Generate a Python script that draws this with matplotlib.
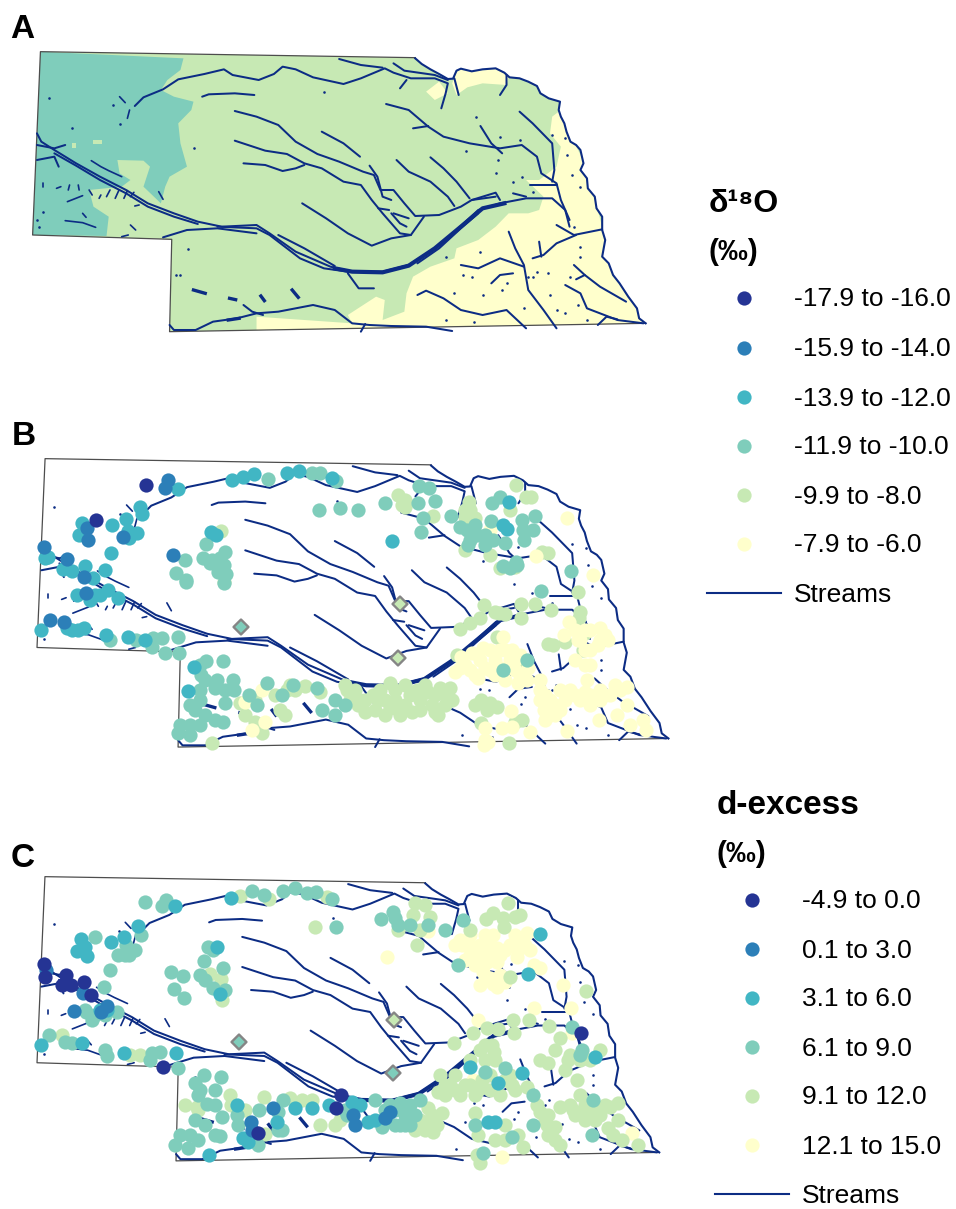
import numpy as np
import matplotlib
matplotlib.use("Agg")
import matplotlib.pyplot as plt
from matplotlib.patches import Polygon

plt.rcParams['font.family'] = ['Liberation Sans', 'DejaVu Sans']

# colour classes, darkest first
class_colors = ["#253494", "#2C7FB8", "#41B6C4", "#7FCDBB", "#C7E9B4", "#FFFFCC"]
stream_color = "#0C2C84"

d18o_labels = ["-17.9 to -16.0", "-15.9 to -14.0", "-13.9 to -12.0", "-11.9 to -10.0", "-9.9 to -8.0", "-7.9 to -6.0"]
dexcess_labels = ["-4.9 to 0.0", "0.1 to 3.0", "3.1 to 6.0", "6.1 to 9.0", "9.1 to 12.0", "12.1 to 15.0"]

# map outline and streams, digitised in map units
north_west = [(955, 173), (93, 155), (75, 705), (395, 718), (390, 995), (1485, 970)]
missouri = [(955, 175), (970, 192), (990, 208), (1010, 222), (1030, 237), (1042, 236), (1050, 212), (1060, 206), (1085, 214), (1110, 208),
            (1140, 205), (1160, 218), (1172, 232), (1195, 235), (1215, 245), (1235, 258), (1243, 280), (1262, 295), (1288, 305), (1285, 330),
            (1290, 350), (1298, 370), (1303, 395), (1312, 425), (1325, 435), (1335, 450), (1342, 490), (1335, 510), (1350, 535), (1352, 565),
            (1368, 590), (1372, 625), (1385, 650), (1385, 690), (1392, 720), (1385, 770), (1400, 790), (1410, 825), (1425, 850), (1445, 890),
            (1465, 925), (1470, 955), (1485, 970)]
platte_thick = [(770, 805), (810, 815), (880, 817), (940, 797), (1000, 745), (1060, 680), (1110, 625), (1160, 610)]
streams = [
    [(310, 318), (330, 292), (375, 268), (410, 238), (470, 222), (515, 208), (535, 225), (595, 240), (630, 222), (650, 200),
     (680, 208), (720, 232), (790, 252), (830, 235), (885, 205), (905, 218), (945, 235), (1000, 235), (1030, 250), (1025, 280), (1015, 325)],
    [(780, 177), (830, 195), (880, 203)],
    [(905, 190), (930, 212), (1000, 225), (1030, 240)],
    [(920, 265), (935, 240)],
    [(1045, 235), (1055, 285)],
    [(1165, 225), (1165, 255), (1150, 285)],
    [(85, 400), (95, 425), (125, 450), (175, 490), (230, 530), (290, 570), (340, 610), (400, 640), (455, 665), (510, 680),
     (590, 675), (620, 700), (680, 755), (760, 800), (810, 815), (880, 815), (940, 795), (1000, 745), (1050, 690), (1100, 630),
     (1150, 610), (1210, 595), (1270, 595), (1300, 630), (1310, 680)],
    [(125, 460), (175, 497), (230, 540), (290, 580), (340, 620), (400, 650), (455, 672)],
    [(375, 712), (430, 690), (500, 685), (590, 700)],
    [(500, 680), (590, 685), (620, 705), (650, 735), (690, 775), (745, 805), (800, 815)],
    [(640, 705), (700, 745), (770, 798)],
    [(960, 790), (1010, 745), (1060, 685), (1100, 640)],
    [(85, 435), (125, 445), (150, 435)],
    [(85, 480), (125, 470), (135, 500)],
    [(540, 333), (590, 350), (640, 375), (680, 425), (730, 462), (780, 485), (835, 515), (860, 525), (875, 570), (905, 570),
     (930, 610), (955, 648), (1010, 645), (1060, 620), (1085, 600), (1140, 590)],
    [(540, 422), (610, 452), (660, 462), (700, 490), (740, 505), (790, 545), (830, 555), (855, 600), (880, 640), (920, 700),
     (945, 705), (975, 650)],
    [(560, 490), (610, 495), (650, 513), (680, 505), (700, 495)],
    [(695, 610), (750, 655), (800, 700), (855, 737), (900, 715), (945, 705)],
    [(740, 395), (790, 430), (828, 470)],
    [(912, 480), (940, 515), (990, 545), (1030, 590), (1045, 618)],
    [(990, 472), (1020, 505), (1050, 545), (1080, 595)],
    [(850, 497), (868, 530), (880, 590), (900, 600)],
    [(870, 625), (895, 630)],
    [(900, 640), (920, 670), (935, 680)],
    [(905, 640), (940, 655)],
    [(888, 312), (940, 330), (985, 380), (1020, 410), (1080, 430), (1150, 445), (1200, 435), (1235, 470), (1245, 520), (1280, 550),
     (1290, 600), (1310, 660)],
    [(950, 385), (985, 378)],
    [(1105, 378), (1130, 430), (1155, 460)],
    [(1195, 335), (1225, 370), (1270, 430), (1275, 510), (1270, 545)],
    [(1220, 555), (1280, 555)],
    [(1180, 580), (1210, 590)],
    [(1085, 600), (1140, 578), (1150, 600)],
    [(465, 290), (480, 283), (540, 280), (585, 285)],
    [(1170, 695), (1185, 745), (1205, 795), (1215, 870), (1250, 930), (1280, 985)],
    [(1060, 795), (1100, 805), (1150, 775), (1205, 800)],
    [(1130, 850), (1150, 825), (1180, 820)],
    [(1280, 675), (1320, 705), (1385, 688)],
    [(1325, 705), (1280, 730), (1250, 765), (1225, 775)],
    [(1240, 725), (1245, 770)],
    [(1320, 795), (1345, 825), (1380, 860), (1440, 905)],
    [(1300, 855), (1335, 880), (1350, 925), (1420, 960), (1480, 970)],
    [(1345, 825), (1325, 838)],
    [(1375, 975), (1395, 950), (1420, 958)],
    [(390, 975), (400, 990), (450, 990), (490, 965), (545, 955), (590, 940), (640, 935), (720, 915), (770, 930), (810, 970),
     (850, 975), (900, 978), (980, 980), (1040, 993)],
    [(560, 915), (580, 935), (605, 945)],
    [(830, 995), (840, 972)],
    [(960, 885), (980, 872), (1020, 895), (1060, 930), (1110, 945), (1165, 930), (1210, 985)],
    [(800, 820), (825, 865), (860, 865)],
]
short_streams = [
    [(275, 290), (288, 308)], [(293, 355), (298, 330)],
    [(100, 548), (100, 560)], [(130, 565), (140, 560)], [(160, 555), (157, 570)], [(180, 555), (182, 570)],
    [(155, 605), (190, 587)], [(205, 570), (212, 585)], [(228, 595), (232, 585)], [(245, 590), (253, 570)],
    [(265, 595), (273, 572)], [(285, 595), (293, 572)], [(300, 590), (308, 577)], [(150, 662), (190, 668), (220, 682)],
    [(190, 640), (198, 652)], [(210, 482), (232, 500), (250, 512), (280, 530)], [(300, 675), (312, 690)],
    [(280, 710), (295, 705)], [(365, 575), (375, 598)], [(310, 618), (320, 615)],
]
lakes = [[(445, 870), (472, 880)], [(600, 888), (608, 902)], [(672, 870), (686, 892)], [(528, 895), (542, 899)], [(525, 960), (550, 955)]]
stream_dots = [(113, 295), (260, 315), (275, 372), (165, 385), (447, 445), (745, 277), (1095, 352), (1150, 412), (1195, 420),
               (1072, 452), (1145, 480), (1140, 520), (1200, 530), (1180, 545), (1305, 465), (1315, 525), (1335, 560), (1300, 415),
               (1270, 405), (1225, 575), (432, 748), (405, 825), (415, 825), (1065, 825), (1085, 830), (1105, 755), (1110, 885),
               (1045, 880), (1025, 960), (1090, 965), (1155, 870), (1165, 850), (1260, 820), (1235, 815), (1215, 830), (1225, 830),
               (1310, 830), (1335, 770), (1335, 740), (1205, 925), (1265, 885), (1300, 940), (1330, 915), (1280, 930), (1350, 960),
               (1025, 770), (1320, 680), (100, 635), (90, 680), (85, 660)]

# zones of panel A
teal_zone = [(93, 155), (422, 175), (415, 210), (385, 240), (370, 270), (400, 290), (445, 305), (440, 330), (410, 370), (415, 430),
             (430, 500), (390, 530), (380, 560), (370, 610), (330, 560), (345, 500), (330, 482), (270, 480), (275, 520), (300, 540),
             (280, 560), (205, 570), (215, 620), (250, 650), (245, 708), (75, 705)]
teal_spots = [[(215, 420), (235, 420), (235, 432), (215, 432)], [(165, 430), (175, 430), (175, 445), (165, 445)]]
yellow_ne = [(1050, 215), (1060, 205), (1150, 205), (1170, 230), (1165, 255), (1110, 250), (1075, 262), (1050, 285), (1040, 250)]
yellow_nw = [(980, 275), (1010, 245), (1030, 280), (1000, 300)]
yellow_south = [(1290, 330), (1300, 375), (1345, 490), (1385, 680), (1500, 970), (1280, 1000),
                (820, 1000), (590, 1000), (590, 950), (810, 970), (800, 945), (865, 890), (885, 900), (880, 960), (930, 935), (935, 880),
                (950, 830), (990, 800), (1045, 775), (1050, 745), (1100, 720), (1140, 680), (1170, 640), (1215, 640), (1240, 630),
                (1250, 590), (1210, 540), (1240, 540), (1280, 500), (1290, 440), (1265, 400), (1270, 350)]

# panel B sites, image pixels
b_dark = [(146, 485), (96, 520)]
b_blue = [(168, 480), (165, 488), (87, 528), (88, 540), (44, 547), (67, 559), (84, 577), (86, 593), (50, 620), (64, 622), (123, 537), (173, 555)]
b_cyan = [(178, 489), (232, 480), (243, 477), (254, 474), (287, 473), (299, 471), (332, 478), (140, 507), (142, 514), (82, 523),
          (79, 535), (112, 525), (126, 519), (128, 531), (137, 533), (129, 538), (111, 553), (45, 558), (48, 557), (63, 569), (72, 571),
          (85, 566), (105, 570), (93, 578), (77, 595), (95, 595), (100, 595), (108, 590), (118, 598), (90, 600), (41, 630), (67, 628),
          (78, 630), (84, 628), (72, 630), (106, 635), (128, 637), (145, 640), (211, 532), (216, 535), (188, 691), (194, 667),
          (392, 541), (509, 502), (503, 525), (507, 529)]
b_mint = [(268, 479), (312, 473), (320, 473), (336, 481), (319, 510), (340, 508), (358, 510), (185, 560), (176, 573), (186, 582), (186, 580),
          (206, 544), (203, 558), (210, 563), (218, 563), (225, 552), (224, 565), (218, 572), (226, 574), (212, 560), (220, 558), (224, 583),
          (136, 640), (110, 640), (153, 638), (162, 638), (178, 637), (152, 647), (165, 653), (179, 653), (206, 661), (200, 665), (223, 661),
          (217, 680), (233, 680), (201, 675), (205, 680), (200, 690), (215, 688), (225, 690), (234, 690), (200, 700), (225, 703), (195, 710),
          (205, 715), (215, 720), (223, 722), (180, 725), (190, 725), (200, 725), (178, 733), (190, 735), (190, 705), (249, 695), (257, 705),
          (267, 683), (293, 685), (282, 695), (317, 688), (322, 710), (335, 700), (345, 705), (335, 715),
          (419, 486), (429, 488), (435, 501), (418, 503), (385, 503), (423, 518), (421, 532), (451, 516), (460, 527), (467, 530), (475, 525),
          (477, 535), (470, 540), (468, 545), (485, 535), (485, 545), (493, 540), (491, 521), (492, 503), (500, 497), (505, 543), (522, 520),
          (535, 516), (523, 530), (533, 530), (524, 540), (503, 566), (510, 568), (517, 565), (516, 562), (571, 571), (541, 591), (527, 660), (503, 670)]
b_green = [(221, 531), (224, 582), (212, 743), (290, 685), (305, 686), (287, 690), (295, 690), (320, 692), (240, 703), (245, 715), (255, 722),
           (262, 733), (280, 710), (285, 715), (275, 695), (255, 700), (345, 685), (350, 700), (398, 495), (405, 500), (402, 505), (405, 507),
           (433, 516), (469, 502), (468, 512), (465, 517), (475, 518), (465, 550), (490, 555), (500, 568), (515, 567), (516, 485), (526, 497),
           (531, 497), (510, 510), (542, 552), (548, 553), (578, 592), (484, 605), (499, 613), (495, 612), (505, 614), (521, 604), (535, 604),
           (551, 610), (521, 618), (480, 618), (470, 623), (460, 629), (580, 612), (579, 618), (548, 644), (553, 645), (565, 642), (585, 633),
           (583, 650), (457, 655), (524, 669), (497, 637), (380, 690), (395, 690), (405, 685), (425, 685), (385, 700), (395, 700), (410, 695),
           (420, 700), (435, 695), (445, 695), (375, 710), (385, 715), (400, 715), (420, 710), (435, 712), (438, 715), (445, 705), (360, 700),
           (365, 712), (481, 700), (487, 710), (497, 707), (481, 723), (515, 722), (522, 720), (509, 743),
           (373, 695), (390, 683), (378, 700), (390, 708), (405, 705), (412, 712), (428, 692), (432, 705), (450, 688), (452, 700), (440, 688),
           (395, 708), (417, 690), (347, 690), (355, 690), (358, 705), (365, 700), (475, 705), (490, 703), (465, 510), (470, 510)]
b_yellow = [(262, 690), (245, 702), (252, 730), (265, 722), (567, 518), (593, 575), (536, 556), (490, 530), (569, 622), (564, 635), (590, 630),
            (580, 640), (590, 650), (600, 640), (608, 640), (605, 635), (585, 650), (575, 660), (585, 665), (587, 680), (503, 637), (490, 650),
            (505, 650), (512, 650), (520, 655), (472, 653), (461, 657), (455, 672), (470, 670), (475, 675), (490, 670), (495, 675), (515, 670),
            (520, 675), (495, 660), (510, 660), (540, 680), (545, 695), (560, 690), (575, 695), (580, 700), (590, 695), (600, 690), (610, 695),
            (620, 690), (627, 687), (627, 705), (617, 715), (630, 725), (643, 720), (646, 730), (599, 720), (544, 710), (555, 705), (560, 710),
            (550, 715), (511, 711), (502, 728), (512, 727), (530, 732), (567, 731), (485, 740), (488, 742), (484, 745), (485, 728),
            (480, 660), (485, 668), (465, 665), (478, 678), (500, 668), (505, 680), (518, 683), (527, 680), (500, 650), (515, 660), (528, 668),
            (483, 648), (460, 668), (540, 690), (545, 705), (550, 700), (565, 700), (570, 690), (590, 705), (605, 695), (600, 700), (585, 692),
            (615, 685), (545, 720), (555, 715), (540, 700), (578, 640), (585, 630), (575, 630), (598, 645), (600, 628), (590, 665)]
b_diamonds = [(241, 627), (400, 604), (398, 658)]
b_diamond_class = [3, 4, 4]

# panel C sites, image pixels
c_dark = [(44, 964), (45, 977), (66, 975), (62, 985), (71, 985), (84, 982), (91, 995), (163, 1067), (258, 1133), (341, 1095), (336, 1108), (581, 1033)]
c_blue = [(46, 970), (83, 993), (74, 1011), (107, 1006), (101, 1012), (251, 1122), (252, 1130), (273, 1108), (390, 1112), (385, 1118), (355, 1125), (353, 1115)]
c_cyan = [(175, 906), (231, 898), (81, 939), (85, 947), (77, 951), (87, 956), (111, 942), (124, 937), (138, 926), (41, 1045), (82, 1043), (124, 1053),
          (176, 1053), (217, 947), (220, 994), (237, 1105), (277, 1122), (243, 1138), (248, 1142), (209, 1155), (295, 1108), (312, 1108), (329, 1105),
          (107, 1010), (100, 1010), (540, 934), (528, 974), (470, 1067), (498, 1083), (522, 1073), (488, 1122), (495, 1122), (352, 1102), (360, 1105),
          (368, 1122), (375, 1120), (595, 1057)]
c_mint = [(145, 902), (166, 900), (162, 906), (95, 937), (252, 891), (264, 895), (283, 891), (295, 888), (307, 893), (316, 892), (332, 899), (336, 927),
          (141, 935), (126, 945), (135, 950), (125, 955), (118, 955), (129, 955), (110, 970), (104, 987), (171, 972), (183, 976), (174, 989), (184, 998),
          (208, 947), (213, 950), (204, 961), (200, 975), (223, 968), (205, 980), (213, 988), (225, 990), (85, 1010), (92, 1020), (86, 1012), (95, 1015),
          (117, 1012), (105, 1015), (49, 1035), (65, 1042), (72, 1043), (105, 1050), (107, 1056), (152, 1053), (160, 1052), (150, 1060), (178, 1068),
          (204, 1075), (195, 1083), (221, 1077), (200, 1090), (215, 1090), (198, 1095), (215, 1105), (207, 1104), (222, 1117), (195, 1120), (205, 1125),
          (215, 1135), (220, 1136), (180, 1135), (190, 1135), (198, 1140), (175, 1145), (188, 1148), (237, 1115), (238, 1125), (259, 1110), (278, 1130),
          (282, 1130), (278, 1112), (283, 1100), (258, 1145), (381, 919), (393, 912), (395, 918), (398, 925), (410, 925), (428, 925), (445, 930), (463, 920),
          (458, 965), (485, 1072), (505, 1068), (533, 1095), (582, 1050), (580, 1055), (572, 1027), (593, 1100), (592, 1135), (512, 1137), (533, 1125),
          (475, 1125), (483, 1153), (375, 1100), (390, 1105), (400, 1103), (410, 1105), (420, 1100), (405, 1115), (415, 1115), (395, 1125), (382, 1127),
          (400, 1125), (345, 1110), (347, 1115), (385, 1110), (395, 1110), (405, 1125), (410, 1125)]
c_green = [(327, 897), (240, 896), (269, 899), (315, 927), (210, 974), (221, 979), (222, 1000), (185, 1105), (197, 1107), (198, 1110), (230, 1095), (231, 1105),
           (245, 1110), (264, 1097), (290, 1098), (302, 1100), (312, 1100), (265, 1134), (320, 1125), (335, 1125), (340, 1120), (130, 1055), (140, 1055), (62, 1035),
           (508, 903), (515, 917), (520, 915), (486, 919), (493, 913), (503, 918), (504, 927), (415, 903), (425, 905), (413, 915), (430, 917), (398, 930), (420, 930),
           (417, 945), (470, 930), (510, 977), (586, 991), (513, 1020), (529, 1020), (549, 1026), (454, 1043), (473, 1033), (487, 1028), (498, 1029), (514, 1033),
           (560, 1038), (555, 1050), (570, 1055), (600, 1050), (590, 1060), (580, 1060), (565, 1070), (577, 1080), (580, 1095), (540, 1060), (548, 1063), (568, 1060),
           (480, 1050), (494, 1052), (485, 1060), (455, 1075), (445, 1085), (465, 1085), (478, 1090), (490, 1090), (505, 1080), (510, 1075), (512, 1085), (527, 1087),
           (438, 1092), (455, 1090), (470, 1085), (537, 1105), (540, 1112), (547, 1125), (552, 1130), (555, 1127), (548, 1135), (560, 1145), (505, 1125), (475, 1113),
           (478, 1135), (495, 1140), (505, 1140), (518, 1135), (523, 1147), (480, 1155), (480, 1163), (477, 1155), (560, 1107), (573, 1110), (585, 1112), (590, 1115),
           (600, 1110), (610, 1107), (618, 1103), (585, 1105), (618, 1120), (608, 1128), (613, 1135), (622, 1140), (638, 1145), (420, 1120), (432, 1115), (437, 1125),
           (442, 1113), (433, 1132), (440, 1075), (445, 1095), (450, 1085), (460, 1095), (475, 1095), (482, 1080), (495, 1060), (500, 1095), (490, 1075), (470, 1060),
           (485, 1045), (492, 1045), (515, 1090), (570, 1105), (575, 1115), (590, 1105), (600, 1115), (605, 1105), (595, 1120), (585, 1120), (548, 1115), (545, 1120),
           (555, 1140), (430, 1120), (425, 1130), (428, 1108), (435, 1125), (415, 1130)]
c_yellow = [(387, 957), (563, 985), (571, 1008), (534, 1008), (534, 965), (540, 968), (478, 1020), (572, 1033), (632, 1133), (502, 1157), (473, 1080), (420, 1125),
            (515, 935), (527, 933), (525, 945), (518, 950), (517, 957), (455, 945), (462, 945), (470, 945), (480, 945), (490, 945), (497, 948), (500, 955), (497, 962),
            (478, 955), (465, 960), (475, 965), (483, 972), (493, 935), (485, 935), (493, 984), (497, 987), (505, 982), (502, 980), (428, 931),
            (460, 940), (470, 955), (485, 950), (490, 955), (505, 950), (480, 965), (487, 962), (510, 945), (530, 950), (520, 940), (470, 935), (480, 985), (490, 978), (500, 975)]
c_diamonds = [(239, 1042), (394, 1020), (393, 1073)]
c_diamond_class = [3, 4, 3]


def to_panel(pts, panel):
    # map units -> image pixels, panel = (x0, y0, scale)
    pts = np.array(pts, dtype=float)
    x0, y0, k = panel
    x = x0 + (pts[:, 0] / 2.3 - 32.6) * k
    y = y0 + (pts[:, 1] / 3.0 - 52) * k
    return x, y


def draw_streams(ax, panel, z):
    for s in streams:
        x, y = to_panel(s, panel)
        ax.plot(x, y, color=stream_color, lw=1.45, solid_capstyle="round", zorder=z)
    for s in short_streams:
        x, y = to_panel(s, panel)
        ax.plot(x, y, color=stream_color, lw=1.2, solid_capstyle="round", zorder=z)
    x, y = to_panel(missouri, panel)
    ax.plot(x, y, color=stream_color, lw=1.5, zorder=z)
    x, y = to_panel(platte_thick, panel)
    ax.plot(x, y, color=stream_color, lw=3.0, zorder=z)
    for s in lakes:
        x, y = to_panel(s, panel)
        ax.plot(x, y, color=stream_color, lw=2.4, zorder=z)
    x, y = to_panel(stream_dots, panel)
    ax.scatter(x, y, s=3.5, color=stream_color, linewidths=0, zorder=z)


def draw_outline(ax, panel, z):
    x, y = to_panel(north_west, panel)
    ax.plot(x, y, color="#4d4d4d", lw=0.9, zorder=z)


fig = plt.figure(figsize=(9.56, 12.09), dpi=100)
ax = fig.add_axes([0, 0, 1, 1])
ax.set_xlim(0, 956)
ax.set_ylim(1209, 0)
ax.axis("off")

panel_a = (32.6, 52, 1.0)
panel_b = (37, 459, 1.03)
panel_c = (37, 877, 1.015)

# panel A zones, clipped to the state shape
x, y = to_panel(north_west[:5] + missouri[::-1], panel_a)
state = Polygon(np.column_stack([x, y]), closed=True, facecolor=class_colors[4], edgecolor="none", zorder=1)
ax.add_patch(state)
for zone, c in [(teal_zone, 3), (yellow_south, 5), (yellow_ne, 5), (yellow_nw, 5)]:
    x, y = to_panel(zone, panel_a)
    p = Polygon(np.column_stack([x, y]), closed=True, facecolor=class_colors[c], edgecolor="none", zorder=2)
    ax.add_patch(p)
    p.set_clip_path(state)
for zone in teal_spots:
    x, y = to_panel(zone, panel_a)
    ax.add_patch(Polygon(np.column_stack([x, y]), closed=True, facecolor=class_colors[4], edgecolor="none", zorder=2))
draw_outline(ax, panel_a, 3)
draw_streams(ax, panel_a, 4)

# panels B and C
site_size = 105
b_order = [(b_green, 4), (b_yellow, 5), (b_mint, 3), (b_cyan, 2), (b_blue, 1), (b_dark, 0)]
c_order = [(c_yellow, 5), (c_green, 4), (c_mint, 3), (c_cyan, 2), (c_blue, 1), (c_dark, 0)]
for panel, order, diamonds, dclass in [(panel_b, b_order, b_diamonds, b_diamond_class),
                                       (panel_c, c_order, c_diamonds, c_diamond_class)]:
    draw_outline(ax, panel, 3)
    draw_streams(ax, panel, 4)
    z = 5
    for sites, c in order:
        pts = np.array(sites)
        ax.scatter(pts[:, 0], pts[:, 1], s=site_size, color=class_colors[c], linewidths=0, zorder=z)
        z += 1
    pts = np.array(diamonds)
    ax.scatter(pts[:, 0], pts[:, 1], s=58, marker="D", c=[class_colors[i] for i in dclass],
               edgecolors="#858585", linewidths=1.7, zorder=z)

# panel letters
ax.text(10, 38, "A", fontsize=24, fontweight="bold", ha="left", va="baseline")
ax.text(12, 445, "B", fontsize=24, fontweight="bold", ha="left", va="baseline")
ax.text(11, 867, "C", fontsize=24, fontweight="bold", ha="left", va="baseline")

# legends
ax.text(709, 212, "δ¹⁸O", fontsize=23, fontweight="bold", ha="left", va="baseline")
ax.text(709, 260, "(‰)", fontsize=21.5, fontweight="bold", ha="left", va="baseline")
d18o_y = [298, 347.5, 397, 446, 495, 544]
for yy, lab, col in zip(d18o_y, d18o_labels, class_colors):
    ax.scatter([744], [yy], s=105, color=col, linewidths=0)
    ax.text(794, yy + 8.5, lab, fontsize=19, ha="left", va="baseline")
ax.plot([707, 781], [593, 593], color=stream_color, lw=1.5)
ax.text(794, 602, "Streams", fontsize=19, ha="left", va="baseline")

ax.text(717, 814, "d-excess", fontsize=24, fontweight="bold", ha="left", va="baseline")
ax.text(717, 862, "(‰)", fontsize=21.5, fontweight="bold", ha="left", va="baseline")
dexcess_y = [900, 949, 998, 1047, 1096, 1145]
for yy, lab, col in zip(dexcess_y, dexcess_labels, class_colors):
    ax.scatter([752], [yy], s=105, color=col, linewidths=0)
    ax.text(802, yy + 8.5, lab, fontsize=19, ha="left", va="baseline")
ax.plot([715, 789], [1194, 1194], color=stream_color, lw=1.5)
ax.text(802, 1203, "Streams", fontsize=19, ha="left", va="baseline")

fig.savefig("out.png", dpi=100)
